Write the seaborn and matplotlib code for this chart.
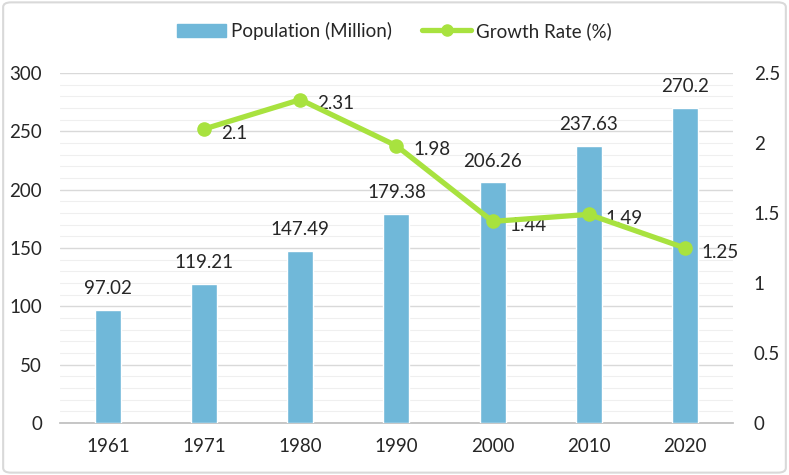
import numpy as np
import pandas as pd
import matplotlib
matplotlib.use("Agg")
import matplotlib.pyplot as plt
from matplotlib.patches import FancyBboxPatch, Patch
from matplotlib.lines import Line2D
from matplotlib.ticker import MultipleLocator
import seaborn as sns

years = ["1961", "1971", "1980", "1990", "2000", "2010", "2020"]
population = [97.02, 119.21, 147.49, 179.38, 206.26, 237.63, 270.2]
growth = [np.nan, 2.1, 2.31, 1.98, 1.44, 1.49, 1.25]
pop_labels = ["97.02", "119.21", "147.49", "179.38", "206.26", "237.63", "270.2"]
growth_labels = ["", "2.1", "2.31", "1.98", "1.44", "1.49", "1.25"]

BAR = "#70B8D9"
LINE = "#A8E23F"
FS = 13.5

sns.set_theme(style="white")
plt.rcParams["font.family"] = ["Lato", "DejaVu Sans"]

fig = plt.figure(figsize=(7.89, 4.75), dpi=100)
ax = fig.add_axes([0.076, 0.1095, 0.853, 0.7368])

df = pd.DataFrame({"year": years, "pop": population, "growth": growth})
sns.barplot(data=df, x="year", y="pop", color=BAR, width=0.27, ax=ax,
            saturation=1, zorder=3)
ax.set_ylim(0, 300)
ax.set_xlim(-0.5, len(years) - 0.5)
ax.yaxis.set_major_locator(MultipleLocator(50))
ax.yaxis.set_minor_locator(MultipleLocator(10))
ax.grid(axis="y", which="major", color="#D9D9D9", lw=1, zorder=0)
ax.grid(axis="y", which="minor", color="#EFEFEF", lw=0.8, zorder=0)
ax.set_axisbelow(True)
for s in ["top", "right", "left"]:
    ax.spines[s].set_visible(False)
ax.spines["bottom"].set_color("#BFBFBF")
ax.set_xlabel("")
ax.set_ylabel("")
ax.tick_params(axis="y", which="both", length=0, labelsize=FS, colors="#262626", pad=13)
ax.tick_params(axis="x", which="major", length=0, labelsize=FS, colors="#262626", pad=11)
ax.set_xticks(np.arange(-0.5, len(years)), minor=True)
ax.tick_params(axis="x", which="minor", length=6, color="#BFBFBF", width=1)

for i, (v, t) in enumerate(zip(population, pop_labels)):
    ax.annotate(t, (i, v), xytext=(0, 9), textcoords="offset points",
                ha="center", va="bottom", fontsize=FS, color="#262626")

ax2 = ax.twinx()
idx = np.arange(len(years))
sns.lineplot(x=idx, y=growth, ax=ax2, color=LINE, lw=3.8, marker="o",
             markersize=10.5, markeredgewidth=0, zorder=5)
ax2.set_ylim(0, 2.5)
ax2.set_yticks([0, 0.5, 1, 1.5, 2, 2.5])
ax2.set_yticklabels(["0", "0.5", "1", "1.5", "2", "2.5"])
for s in ax2.spines.values():
    s.set_visible(False)
ax2.tick_params(axis="y", length=0, labelsize=FS, colors="#262626", pad=15)
ax2.grid(False)
ax2.set_ylabel("")
for i, (v, t) in enumerate(zip(growth, growth_labels)):
    if t:
        ax2.annotate(t, (i, v), xytext=(12, -3), textcoords="offset points",
                     ha="left", va="center", fontsize=FS, color="#262626")

handles = [Patch(color=BAR),
           Line2D([0], [0], color=LINE, lw=3.8, marker="o", markersize=8)]
fig.legend(handles, ["Population (Million)", "Growth Rate (%)"],
           loc="center", bbox_to_anchor=(0.5, 0.935), ncol=2, frameon=False,
           fontsize=FS, handlelength=2.6, columnspacing=1.6, handletextpad=0.3,
           labelcolor="#262626")

border = FancyBboxPatch((0.004, 0.005), 0.992, 0.99, boxstyle="round,pad=0,rounding_size=0.01",
                        transform=fig.transFigure, fill=False, edgecolor="#D9D9D9", lw=1.5)
fig.patches.append(border)

fig.savefig("out.png", dpi=100)
